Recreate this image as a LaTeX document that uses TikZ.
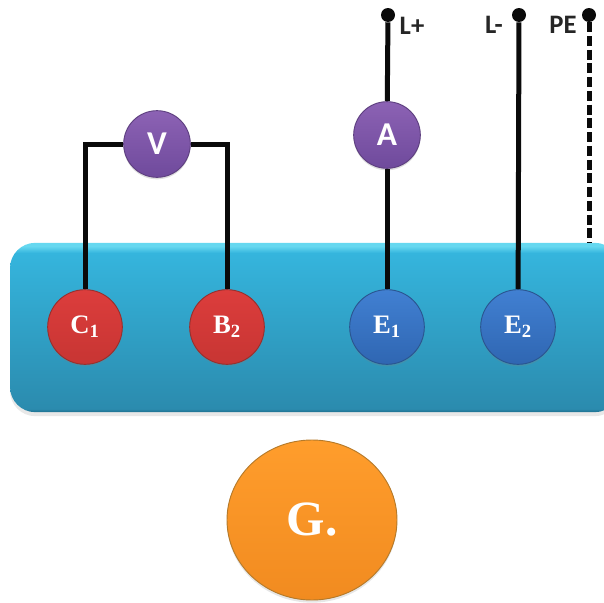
\documentclass[tikz,border=0pt]{standalone}
\usepackage{fontspec}
\setmainfont{Liberation Serif}
\setsansfont{Carlito}
\usepackage{tikz}
\usetikzlibrary{arrows.meta, positioning, shapes.geometric, shadows}

\definecolor{wireblack}{HTML}{0A0A0A}
\definecolor{barA}{HTML}{1F6F8E}
\definecolor{barB}{HTML}{2B8BAE}
\definecolor{barC}{HTML}{35B5DD}
\definecolor{barD}{HTML}{66D8F0}
\definecolor{redtop}{HTML}{DC3D3C}
\definecolor{redbot}{HTML}{C73533}
\definecolor{rededge}{HTML}{96302E}
\definecolor{bluetop}{HTML}{4180D2}
\definecolor{bluebot}{HTML}{2F66B2}
\definecolor{blueedge}{HTML}{2A5590}
\definecolor{violettop}{HTML}{8C62B4}
\definecolor{violetbot}{HTML}{6F4A9C}
\definecolor{violetedge}{HTML}{5E4080}
\definecolor{orangetop}{HTML}{FF9D2C}
\definecolor{orangebot}{HTML}{F18B20}
\definecolor{orangeedge}{HTML}{B57A2A}
\pgfdeclareverticalshading{barshade}{100bp}{color(0bp)=(barA); color(25bp)=(barA); color(26bp)=(barB); color(72bp)=(barC); color(74bp)=(barD); color(100bp)=(barD)}

\begin{document}
\begin{tikzpicture}[x=0.75pt, y=-0.75pt,
		bar/.style={rounded corners=19pt, shading=barshade,
			drop shadow={opacity=0.18, shadow xshift=0pt, shadow yshift=-3pt}},
		ball/.style={circle, inner sep=0pt, minimum size=56pt, text=white, line width=0.7pt,
			font=\bfseries\fontsize{20}{22}\selectfont,
			drop shadow={opacity=0.25, shadow xshift=0pt, shadow yshift=-1.5pt}},
		rednode/.style={ball, draw=rededge, top color=redtop, bottom color=redbot},
		bluenode/.style={ball, draw=blueedge, top color=bluetop, bottom color=bluebot},
		meter/.style={ball, minimum size=50pt, draw=violetedge,
			top color=violettop, bottom color=violetbot,
			font=\sffamily\bfseries\fontsize{25}{27}\selectfont},
		gennode/.style={ellipse, inner sep=0pt, minimum width=127.5pt, minimum height=120pt, text=white,
			draw=orangeedge, line width=0.7pt, top color=orangetop, bottom color=orangebot,
			font=\bfseries\fontsize{37}{39}\selectfont,
			drop shadow={opacity=0.2, shadow xshift=0pt, shadow yshift=-2pt}},
		term/.style={circle, fill=wireblack, inner sep=0pt, minimum size=10.5pt},
		lab/.style={font=\sffamily\bfseries\fontsize{20}{22}\selectfont, text=black!85},
		wire/.style={line width=3.75pt, draw=wireblack}
		]
		\useasboundingbox (0,0) rectangle (604,603);
		\clip (0,0) rectangle (604,603);
		\node[bar, minimum width=457.5pt, minimum height=127pt] (bar) at (315,327.5) {};
		
		\node[rednode] (c1) at (85,327) {C\textsubscript{1}};
		\node[rednode] (b2) at (227,327) {B\textsubscript{2}};
		\node[bluenode] (e1) at (387,327) {E\textsubscript{1}};
		\node[bluenode] (e2) at (518,327) {E\textsubscript{2}};
		\node[meter] (v) at (157,144) {V};
		\node[meter] (a) at (387,135) {A};
		\node[gennode] (g) at (312,520) {G.};
		
		\node[term] (lp) at (388,15) {};
		\node[term] (lm) at (519,15) {};
		\node[term] (pe) at (589,15) {};
		\node[lab] at (412,26) {L+};
		\node[lab] at (494,25) {L-};
		\node[lab] at (563,25) {PE};
		
		\foreach \s/\t in {lp/a, a/e1, lm/e2}
		\draw[wire] (\s) -- (\t);
		\draw[wire] (c1) |- (v);
		\draw[wire] (b2) |- (v);
		\draw[wire, dash pattern=on 7.5pt off 2.8pt] (pe) -- (pe |- bar.north);
	\end{tikzpicture}
\end{document}
